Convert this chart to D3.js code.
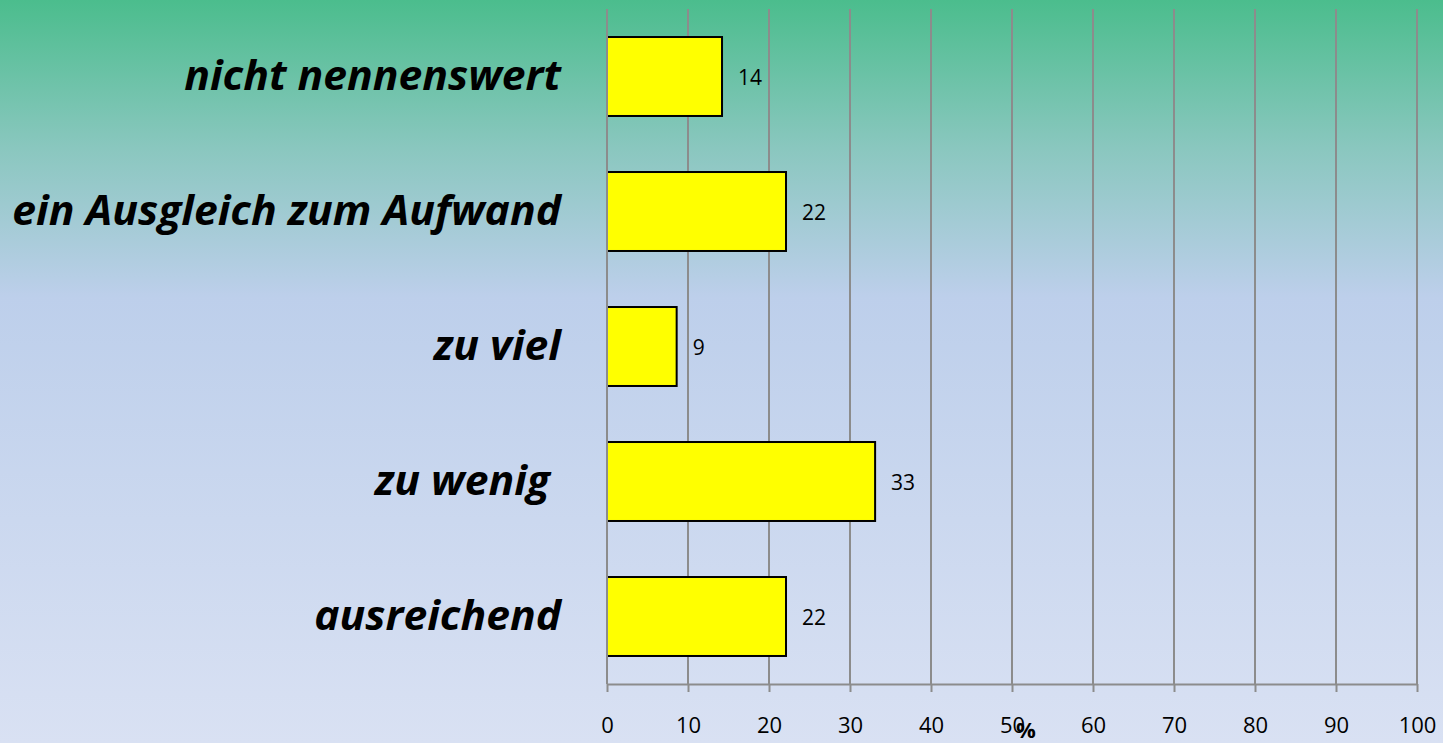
<!DOCTYPE html>
<html>
<head>
<meta charset="utf-8">
<script src="https://cdn.jsdelivr.net/npm/d3@7"></script>
<style>
  html, body { margin: 0; padding: 0; }
  body { width: 1443px; height: 743px; overflow: hidden; }
  svg { display: block; }
</style>
</head>
<body>
<svg id="chart" width="1443" height="743"></svg>
<script>
// data
const categories = ["nicht nennenswert", "ein Ausgleich zum Aufwand", "zu viel", "zu wenig\u00a0", "ausreichend"];
const values = [14.2, 22.1, 8.6, 33.1, 22.1];
const valueLabels = ["14", "22", "9", "33", "22"];
const xTicks = [0, 10, 20, 30, 40, 50, 60, 70, 80, 90, 100];
const axisTitle = "%";

const W = 1443, H = 743;
const margin = {top: 9, left: 607, right: 26, bottom: 59};
const svg = d3.select("#chart");

// background gradient
const defs = svg.append("defs");
const grad = defs.append("linearGradient")
    .attr("id", "bg")
    .attr("x1", 0).attr("y1", 0).attr("x2", 0).attr("y2", 1);
grad.append("stop").attr("offset", "0%").attr("stop-color", "#4bbd8d");
grad.append("stop").attr("offset", "20%").attr("stop-color", "#8ac7bf");
grad.append("stop").attr("offset", "40%").attr("stop-color", "#bdcfeb");
grad.append("stop").attr("offset", "100%").attr("stop-color", "#d9e1f3");
svg.append("rect").attr("width", W).attr("height", H).attr("fill", "url(#bg)");

const x = d3.scaleLinear().domain([0, 100]).range([margin.left, W - margin.right]);
const y = d3.scaleBand().domain(categories)
    .range([margin.top, H - margin.bottom])
    .paddingInner(0.415).paddingOuter(0.2075);

const axisY = H - margin.bottom;

// vertical gridlines
svg.append("g")
    .selectAll("line")
    .data(xTicks)
    .join("line")
    .attr("x1", d => x(d)).attr("x2", d => x(d))
    .attr("y1", margin.top).attr("y2", axisY)
    .attr("stroke", "#8c8c8c")
    .attr("stroke-width", 2);

// bars
svg.append("g")
    .selectAll("rect")
    .data(values)
    .join("rect")
    .attr("x", x(0))
    .attr("y", (d, i) => y(categories[i]))
    .attr("width", d => x(d) - x(0))
    .attr("height", y.bandwidth())
    .attr("fill", "#ffff00")
    .attr("stroke", "#000")
    .attr("stroke-width", 2);

// y axis line on top of bars
svg.append("line")
    .attr("x1", x(0)).attr("x2", x(0))
    .attr("y1", margin.top).attr("y2", axisY)
    .attr("stroke", "#8c8c8c").attr("stroke-width", 2);

// x axis
const xAxis = svg.append("g")
    .attr("transform", `translate(0,${axisY})`)
    .call(d3.axisBottom(x).tickValues(xTicks).tickSize(8).tickPadding(25).tickSizeOuter(0));
xAxis.select(".domain").attr("stroke", "#8c8c8c").attr("stroke-width", 2);
xAxis.selectAll(".tick line").attr("stroke", "#8c8c8c").attr("stroke-width", 2);
xAxis.selectAll(".tick text")
    .attr("font-family", "'Open Sans', sans-serif")
    .attr("font-size", 22)
    .attr("fill", "#000");

// axis title
svg.append("text")
    .attr("x", 1026).attr("y", 738)
    .attr("text-anchor", "middle")
    .attr("font-family", "'Open Sans', sans-serif")
    .attr("font-weight", "bold")
    .attr("font-size", 22)
    .text(axisTitle);

// value labels
svg.append("g")
    .selectAll("text")
    .data(values)
    .join("text")
    .attr("x", d => x(d) + 16)
    .attr("y", (d, i) => y(categories[i]) + y.bandwidth() / 2 + 1)
    .attr("dy", "0.36em")
    .attr("font-family", "'Open Sans', sans-serif")
    .attr("font-size", 21)
    .attr("fill", "#000")
    .text((d, i) => valueLabels[i]);

// category labels, squeezed horizontally to match the narrow source font
const labelRight = 561;
const catG = svg.append("g");
const cats = catG.selectAll("text")
    .data(categories)
    .join("text")
    .attr("x", 0)
    .attr("y", d => y(d) + y.bandwidth() / 2 + 13.5)
    .attr("text-anchor", "end")
    .attr("font-family", "'Open Sans', sans-serif")
    .attr("font-weight", "bold")
    .attr("font-style", "italic")
    .attr("font-size", 42)
    .style("white-space", "pre")
    .text(d => d);

let widest = 0;
cats.each(function() { widest = Math.max(widest, this.getComputedTextLength()); });
const sx = 549 / widest;
catG.attr("transform", `translate(${labelRight},0) scale(${sx},1)`);
</script>
</body>
</html>
